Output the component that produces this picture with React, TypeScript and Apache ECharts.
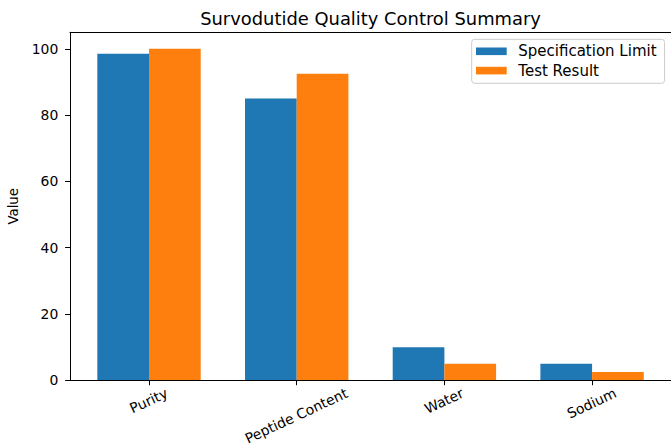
import { useEffect, useRef } from 'react';
import * as echarts from 'echarts';

// ---- data ----
const categories = ['Purity', 'Peptide Content', 'Water', 'Sodium'];
const seriesNames = ['Specification Limit', 'Test Result'];
const specValues = [98.5, 85, 10, 5];
const testValues = [100, 92.5, 5, 2.5];
const yTicks = [0, 20, 40, 60, 80, 100];
const chartTitle = 'Survodutide Quality Control Summary';
const yAxisTitle = 'Value';

// ---- layout / style ----
const FONT = '"DejaVu Sans", "Noto Sans", sans-serif';
const W = 671;
const H = 447;
const X_MIN = -0.535;
const X_MAX = 3.535;
const Y_MAX = 105;
const PLOT_LEFT = 70;
const PLOT_RIGHT = 671.1;
const PLOT_TOP = 32.3;
const PLOT_BOTTOM = 380.3;
const PLOT_W = PLOT_RIGHT - PLOT_LEFT;
const PLOT_H = PLOT_BOTTOM - PLOT_TOP;
const UNIT = PLOT_W / (X_MAX - X_MIN);
const CAT_LEFT = PLOT_LEFT + (-0.5 - X_MIN) * UNIT;
const CAT_W = categories.length * UNIT;
const TICK_FS = 13.9;
const LABEL_LH = 13;
const ROT = 25;
const COLORS = ['#1f77b4', '#ff7f0e'];

function measure(text: string, size: number): number {
  const ctx = document.createElement('canvas').getContext('2d');
  if (!ctx) return text.length * size * 0.6;
  ctx.font = `${size}px "DejaVu Sans"`;
  return ctx.measureText(text).width;
}

function labelPadding(text: string): number[] {
  const t = (ROT * Math.PI) / 180;
  const s = Math.sin(t);
  const c = Math.cos(t);
  const w = measure(text, TICK_FS);
  const hMpl = 0.968 * TICK_FS;
  const D = (w * s + hMpl * c) / 2;
  const b = D * c;
  const pt = b - LABEL_LH / 2 - 0.07 * TICK_FS;
  const pr = 2 * D * s;
  return [Math.max(0, pt), pr, 0, 0];
}

export default function App() {
  const ref = useRef<HTMLDivElement>(null);

  useEffect(() => {
    if (!ref.current) return;
    const chart = echarts.init(ref.current, undefined, { renderer: 'svg', width: W, height: H });

    const spineAxis = {
      show: true,
      axisLine: { show: true, onZero: false, lineStyle: { color: '#000', width: 1 } },
      axisTick: { show: false },
      axisLabel: { show: false },
      splitLine: { show: false },
      z: 5,
    };

    const labelStyle = {
      fontFamily: FONT,
      fontSize: TICK_FS,
      lineHeight: LABEL_LH,
      color: '#000',
      align: 'center',
      verticalAlign: 'top',
    };

    const option: any = {
      animation: false,
      backgroundColor: '#fff',
      title: {
        text: chartTitle,
        left: (PLOT_LEFT + PLOT_RIGHT) / 2,
        textAlign: 'center',
        top: 9.8,
        padding: 0,
        textStyle: {
          fontFamily: FONT,
          fontSize: 17.9,
          lineHeight: 18,
          fontWeight: 'normal',
          color: '#000',
        },
      },
      legend: {
        data: seriesNames,
        orient: 'vertical',
        left: 471.7,
        top: 39.3,
        padding: [3.5, 8, 4.2, 4.3],
        itemGap: 2.3,
        itemWidth: 30.7,
        itemHeight: 7.6,
        icon: 'rect',
        selectedMode: false,
        backgroundColor: 'rgba(255,255,255,0.8)',
        borderColor: '#cccccc',
        borderWidth: 1,
        borderRadius: 3,
        textStyle: {
          fontFamily: FONT,
          fontSize: 15,
          lineHeight: 17,
          color: '#000',
          padding: [0, 0, 0, 6.6],
        },
      },
      grid: [
        {
          left: PLOT_LEFT,
          top: PLOT_TOP,
          width: PLOT_W,
          height: PLOT_H,
          show: false,
          containLabel: false,
          outerBoundsMode: 'none',
        },
        {
          left: CAT_LEFT,
          top: PLOT_TOP,
          width: CAT_W,
          height: PLOT_H,
          show: false,
          containLabel: false,
          outerBoundsMode: 'none',
        },
      ],
      xAxis: [
        { ...spineAxis, type: 'value', gridIndex: 0, min: X_MIN, max: X_MAX, position: 'bottom' },
        { ...spineAxis, type: 'value', gridIndex: 0, min: X_MIN, max: X_MAX, position: 'top' },
        {
          type: 'category',
          gridIndex: 1,
          data: categories.map((c) => ({
            value: c,
            textStyle: { ...labelStyle, padding: labelPadding(c) },
          })),
          boundaryGap: true,
          axisLine: { show: false, onZero: false },
          axisTick: { show: true, alignWithLabel: true, length: 4.9, lineStyle: { color: '#000', width: 1 } },
          axisLabel: {
            ...labelStyle,
            interval: 0,
            rotate: ROT,
            margin: 6.6,
            hideOverlap: false,
          },
          splitLine: { show: false },
        },
      ],
      yAxis: [
        {
          type: 'value',
          gridIndex: 0,
          min: 0,
          max: Y_MAX,
          position: 'left',
          name: yAxisTitle,
          nameLocation: 'middle',
          nameRotate: 90,
          nameGap: 46.5,
          nameTextStyle: { fontFamily: FONT, fontSize: 13.2, lineHeight: 15, color: '#000' },
          axisLine: { show: true, onZero: false, lineStyle: { color: '#000', width: 1 } },
          axisTick: { show: true, length: 4.9, customValues: yTicks, lineStyle: { color: '#000', width: 1 } },
          axisLabel: {
            customValues: yTicks,
            margin: 11.7,
            fontFamily: FONT,
            fontSize: TICK_FS,
            color: '#000',
          },
          splitLine: { show: false },
          z: 5,
        },
        { ...spineAxis, type: 'value', gridIndex: 0, min: 0, max: Y_MAX, position: 'right' },
        {
          type: 'value',
          gridIndex: 1,
          min: 0,
          max: Y_MAX,
          show: false,
          splitLine: { show: false },
        },
      ],
      series: [
        {
          name: seriesNames[0],
          type: 'bar',
          xAxisIndex: 2,
          yAxisIndex: 2,
          data: specValues,
          barWidth: '35%',
          barGap: '0%',
          itemStyle: { color: COLORS[0] },
        },
        {
          name: seriesNames[1],
          type: 'bar',
          xAxisIndex: 2,
          yAxisIndex: 2,
          data: testValues,
          barWidth: '35%',
          barGap: '0%',
          itemStyle: { color: COLORS[1] },
        },
      ],
    };

    chart.setOption(option);
    return () => {
      chart.dispose();
    };
  }, []);

  return (
    <div
      ref={ref}
      style={{ position: 'fixed', left: 0, top: 0, width: W, height: H, background: '#fff' }}
    />
  );
}
